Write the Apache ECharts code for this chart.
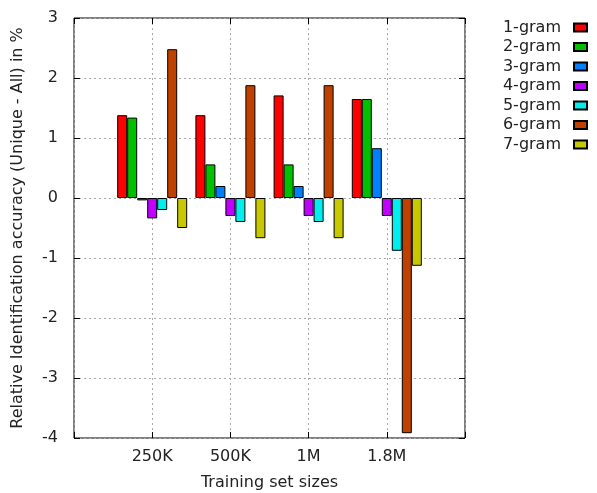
<!DOCTYPE html>
<html>
<head>
<meta charset="utf-8">
<script src="https://cdn.jsdelivr.net/npm/echarts@6/dist/echarts.min.js"></script>
<style>
  html, body { margin: 0; padding: 0; background: #fff; }
  #chart { width: 597px; height: 493px; }
</style>
</head>
<body>
<div id="chart"></div>
<script>
// 训练集大小 (x 轴类别)
const sizes = ['250K', '500K', '1M', '1.8M'];
const seriesNames = ['1-gram', '2-gram', '3-gram', '4-gram', '5-gram', '6-gram', '7-gram'];
const colors = ['#ff0000', '#00c000', '#0080ff', '#c000ff', '#00eeee', '#c04000', '#c8c800'];

// 每个 n-gram 在各训练集大小下的值 (Unique - All, %)
const gram1 = [1.38, 1.38, 1.71, 1.65];
const gram2 = [1.34, 0.56, 0.56, 1.65];
const gram3 = [-0.04, 0.2, 0.2, 0.83];
const gram4 = [-0.34, -0.3, -0.3, -0.3];
const gram5 = [-0.2, -0.4, -0.4, -0.88];
const gram6 = [2.48, 1.88, 1.88, -3.92];
const gram7 = [-0.5, -0.67, -0.67, -1.13];
const values = [gram1, gram2, gram3, gram4, gram5, gram6, gram7];

const yTicks = [-4, -3, -2, -1, 0, 1, 2, 3];

const font = 'DejaVu Sans';
const textColor = '#222';

let myChart = echarts.init(document.getElementById('chart'));

let series = values.map((vals, i) => {
  return {
    name: seriesNames[i],
    type: 'bar',
    barWidth: 10,
    barGap: '0%',
    itemStyle: { color: colors[i], borderColor: '#000', borderWidth: 1 },
    data: vals.map((v, k) => [k + 1, v])
  };
});

let gridLine = { show: true, lineStyle: { color: '#a8a8a8', type: [2, 3], width: 1 } };
let tick = { show: true, inside: true, length: 6, lineStyle: { color: '#000' } };

let option = {
  animation: false,
  color: colors,
  textStyle: { fontFamily: font },
  grid: {
    left: 74, right: 132, top: 18, bottom: 55,
    outerBoundsMode: 'none',
    show: true, borderColor: '#000', borderWidth: 1, backgroundColor: 'transparent'
  },
  legend: {
    orient: 'vertical',
    right: 9,
    top: 19.5,
    padding: 0,
    align: 'right',
    itemWidth: 13,
    itemHeight: 8,
    itemGap: 3.5,
    icon: 'rect',
    textStyle: { fontFamily: font, fontSize: 16, color: textColor, padding: [0, 8, 0, 0] },
    data: seriesNames
  },
  xAxis: [{
    type: 'value',
    min: 0, max: 5, interval: 1,
    name: 'Training set sizes',
    nameLocation: 'middle',
    nameGap: 37,
    nameTextStyle: { fontFamily: font, fontSize: 16, color: textColor },
    axisLine: { show: false, onZero: false },
    axisTick: tick,
    axisLabel: {
      fontFamily: font, fontSize: 16, color: textColor, margin: 11,
      formatter: (v) => (v >= 1 && v <= sizes.length) ? sizes[v - 1] : ''
    },
    splitLine: gridLine
  }, {
    type: 'value',
    position: 'top',
    min: 0, max: 5, interval: 1,
    axisLine: { show: false, onZero: false },
    axisTick: tick,
    axisLabel: { show: false },
    splitLine: { show: false }
  }],
  yAxis: [{
    type: 'value',
    min: yTicks[0], max: yTicks[yTicks.length - 1], interval: 1,
    name: 'Relative Identification accuracy (Unique - All) in %',
    nameLocation: 'middle',
    nameGap: 48.5,
    nameTextStyle: { fontFamily: font, fontSize: 16, color: textColor },
    axisLine: { show: false, onZero: false },
    axisTick: tick,
    axisLabel: { fontFamily: font, fontSize: 16, color: textColor, margin: 16 },
    splitLine: gridLine
  }, {
    type: 'value',
    position: 'right',
    min: yTicks[0], max: yTicks[yTicks.length - 1], interval: 1,
    axisLine: { show: false, onZero: false },
    axisTick: tick,
    axisLabel: { show: false },
    splitLine: { show: false }
  }],
  series: series
};

myChart.setOption(option);
</script>
</body>
</html>
